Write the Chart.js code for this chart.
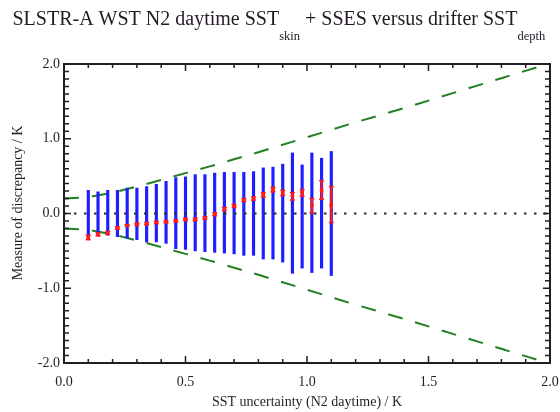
<!DOCTYPE html>
<html><head><meta charset="utf-8">
<script src="https://cdn.jsdelivr.net/npm/chart.js@4.4.1/dist/chart.umd.min.js"></script>
<style>html,body{margin:0;padding:0;background:#fff;}canvas{display:block;}</style>
</head><body>
<canvas id="c" width="560" height="412"></canvas>
<script>
// ---- data ----
const xValues   = [0.10,0.14,0.18,0.22,0.26,0.30,0.34,0.38,0.42,0.46,0.50,0.54,0.58,0.62,0.66,0.70,0.74,0.78,0.82,0.86,0.90,0.94,0.98,1.02,1.06,1.10];
const blueHigh  = [0.31,0.29,0.31,0.31,0.34,0.34,0.36,0.39,0.43,0.48,0.49,0.52,0.52,0.54,0.55,0.55,0.55,0.56,0.61,0.62,0.66,0.81,0.65,0.81,0.74,0.83];
const blueLow   = [-0.35,-0.29,-0.29,-0.31,-0.33,-0.35,-0.38,-0.38,-0.40,-0.47,-0.48,-0.50,-0.51,-0.52,-0.53,-0.54,-0.56,-0.56,-0.61,-0.61,-0.65,-0.80,-0.73,-0.79,-0.73,-0.83];
const redMedian = [-0.32,-0.28,-0.26,-0.20,-0.16,-0.145,-0.135,-0.12,-0.11,-0.10,-0.08,-0.08,-0.06,-0.01,0.06,0.10,0.18,0.20,0.25,0.32,0.28,0.23,0.28,0.11,0.31,0.11];
const redLow    = [-0.35,-0.30,-0.28,-0.21,-0.17,-0.16,-0.15,-0.135,-0.125,-0.115,-0.095,-0.095,-0.075,-0.03,0.04,0.08,0.16,0.18,0.22,0.29,0.24,0.18,0.23,0.01,0.19,-0.12];
const redHigh   = [-0.29,-0.26,-0.24,-0.18,-0.15,-0.13,-0.12,-0.105,-0.095,-0.085,-0.065,-0.065,-0.045,0.01,0.08,0.12,0.20,0.22,0.28,0.35,0.31,0.28,0.32,0.20,0.44,0.36];
const greenX     = [0,0.1,0.2,0.3,0.4,0.5,0.6,0.8,1.0,1.2,1.4,1.6,1.8,2.0];
const greenUpper = [0.20,0.22,0.28,0.36,0.45,0.54,0.63,0.82,1.02,1.22,1.41,1.61,1.81,2.01];
const greenLower = [-0.20,-0.22,-0.28,-0.36,-0.45,-0.54,-0.63,-0.82,-1.02,-1.22,-1.41,-1.61,-1.81,-2.01];
const zeroLineX  = [0, 2];
const xTickValues = [0, 0.5, 1.0, 1.5, 2.0];
const xTickLabels = ['0.0','0.5','1.0','1.5','2.0'];
const yTickValues = [-2, -1, 0, 1, 2];
const yTickLabels = ['-2.0','-1.0','0.0','1.0','2.0'];
const titleParts = [
  {text:'SLSTR-A WST N2 daytime SST', sub:false},
  {text:'skin', sub:true},
  {text:' + SSES versus drifter SST', sub:false},
  {text:'depth', sub:true}
];
const xTitle = 'SST uncertainty (N2 daytime) / K';
const yTitle = 'Measure of discrepancy / K';

// ---- styles ----
const FONT = "'Liberation Serif', 'Times New Roman', serif";
const TEXT = '#251b27';
const GREEN = 'rgb(34,128,34)';
const BLUE = 'rgb(30,30,255)';
const RED = 'rgb(255,25,25)';

const decorPlugin = {
  id: 'decor',
  afterDatasetsDraw(chart) {
    const {ctx, chartArea: a, scales: {x, y}} = chart;
    ctx.save();
    ctx.strokeStyle = TEXT;
    ctx.lineWidth = 1.5;
    ctx.beginPath();
    for (let k = 0; k <= 20; k++) {
      const v = k / 10;
      const px = x.getPixelForValue(v);
      const len = (k % 5 === 0) ? 7 : 4;
      ctx.moveTo(px, a.bottom); ctx.lineTo(px, a.bottom - len);
      ctx.moveTo(px, a.top); ctx.lineTo(px, a.top + len);
    }
    for (let k = -20; k <= 20; k++) {
      const v = k / 10;
      const py = y.getPixelForValue(v);
      const len = (k % 10 === 0) ? 7 : 5;
      ctx.moveTo(a.left, py); ctx.lineTo(a.left + len, py);
      ctx.moveTo(a.right, py); ctx.lineTo(a.right - len, py);
    }
    ctx.stroke();
    ctx.lineWidth = 2;
    ctx.strokeRect(a.left, a.top, a.right - a.left, a.bottom - a.top);
    ctx.restore();
  },
  afterDraw(chart) {
    const ctx = chart.ctx;
    ctx.save();
    ctx.fillStyle = TEXT;
    ctx.textBaseline = 'alphabetic';
    ctx.textAlign = 'left';
    let cx = 12.5;
    for (const p of titleParts) {
      ctx.font = (p.sub ? '12.5px ' : '20px ') + FONT;
      ctx.fillText(p.text, cx, p.sub ? 40 : 25);
      cx += ctx.measureText(p.text).width;
    }
    // y axis title
    ctx.font = '14px ' + FONT;
    ctx.textAlign = 'center';
    ctx.textBaseline = 'middle';
    ctx.translate(18, 203);
    ctx.rotate(-Math.PI / 2);
    ctx.fillText(yTitle, 0, 0);
    ctx.restore();
  }
};

const caps = [];
xValues.forEach((x, i) => { caps.push({x, y: redLow[i]}); caps.push({x, y: redHigh[i]}); });

new Chart(document.getElementById('c'), {
  type: 'scatter',
  data: { datasets: [
    { type:'line', data: greenX.map((x,i)=>({x, y: greenUpper[i]})), borderColor: GREEN, borderWidth: 2, borderDash:[15,13], pointRadius:0, tension:0, order:5 },
    { type:'line', data: greenX.map((x,i)=>({x, y: greenLower[i]})), borderColor: GREEN, borderWidth: 2, borderDash:[15,13], pointRadius:0, tension:0, order:5 },
    { type:'bar', data: xValues.map((x,i)=>({x, y:[blueLow[i], blueHigh[i]]})), backgroundColor: BLUE, barThickness: 2.5, grouped:false, order:4 },
    { type:'line', data: zeroLineX.map(x=>({x, y:0})), borderColor:'#2a2a2a', borderWidth:2, borderDash:[2.5,7.5], pointRadius:0, order:3 },
    { type:'bar', data: xValues.map((x,i)=>({x, y:[redLow[i], redHigh[i]]})), backgroundColor: RED, barThickness: 1.5, grouped:false, order:2 },
    { type:'scatter', data: caps, pointStyle:'line', pointRadius:2.5, borderColor: RED, borderWidth:1.5, order:1 },
    { type:'scatter', data: xValues.map((x,i)=>({x, y: redMedian[i]})), pointStyle:'rect', pointRadius:2.5, backgroundColor: RED, borderWidth:0, order:0 }
  ]},
  options: {
    responsive:false, animation:false, devicePixelRatio:1,
    layout:{ padding:{ top:64, right:10, left:0, bottom:0 } },
    plugins:{ legend:{display:false}, tooltip:{enabled:false}, title:{display:false} },
    scales:{
      x:{ type:'linear', min:0, max:2, offset:false,
          grid:{display:false, drawTicks:false, offset:false}, border:{display:false},
          afterBuildTicks: s => { s.ticks = xTickValues.map(v=>({value:v})); },
          ticks:{ padding:11, color:TEXT, font:{family:FONT, size:14}, maxRotation:0, autoSkip:false,
                  callback:(v,i)=>xTickLabels[i] },
          title:{ display:true, text:xTitle, color:TEXT, font:{family:FONT, size:14}, padding:{top:0, bottom:1} },
          afterFit: s => { s.height = 49; s.paddingRight = 0; s.paddingLeft = 0; } },
      y:{ type:'linear', min:-2, max:2,
          grid:{display:false, drawTicks:false}, border:{display:false},
          afterBuildTicks: s => { s.ticks = yTickValues.map(v=>({value:v})); },
          ticks:{ padding:4, color:TEXT, font:{family:FONT, size:14}, autoSkip:false,
                  callback:(v,i)=>yTickLabels[i] },
          title:{ display:false },
          afterFit: s => { s.width = 64; s.paddingTop = 0; s.paddingBottom = 0; } }
    }
  },
  plugins:[decorPlugin]
});
</script>
</body></html>
